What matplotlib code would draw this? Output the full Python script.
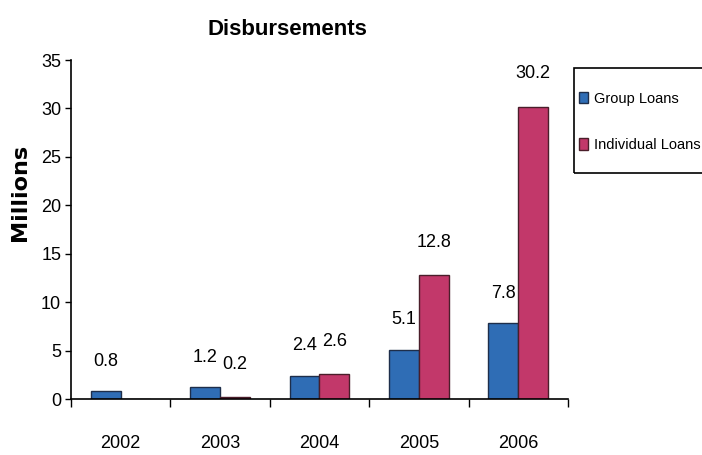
import numpy as np
import matplotlib.pyplot as plt
from matplotlib.ticker import FixedLocator
from matplotlib.patches import Rectangle

years = ['2002', '2003', '2004', '2005', '2006']
group_loans = [0.8, 1.2, 2.4, 5.1, 7.8]
individual_loans = [0, 0.2, 2.6, 12.8, 30.2]
group_labels = ['0.8', '1.2', '2.4', '5.1', '7.8']
indiv_labels = ['', '0.2', '2.6', '12.8', '30.2']

plt.rcParams['font.family'] = ['Liberation Sans', 'DejaVu Sans']

fig = plt.figure(figsize=(7.02, 4.55), dpi=100)
ax = fig.add_axes([0.101, 0.123, 0.708, 0.745])

x = np.arange(len(years))
w = 0.3
b1 = ax.bar(x - w/2, group_loans, w, color='#2f6db5', edgecolor='#1e2e4a', linewidth=1, label='Group Loans')
b2 = ax.bar(x + w/2, individual_loans, w, color='#c2386a', edgecolor='#4a1e2a', linewidth=1, label='Individual Loans')

# value labels above the bars
for rect, lab in zip(b1, group_labels):
    ax.text(rect.get_x() + rect.get_width()/2, rect.get_height() + 2.2, lab,
            ha='center', va='bottom', fontsize=13)
for rect, lab in zip(b2, indiv_labels):
    if lab:
        ax.text(rect.get_x() + rect.get_width()/2, rect.get_height() + 2.5, lab,
                ha='center', va='bottom', fontsize=13)

ax.set_xlim(-0.5, 4.5)
ax.set_ylim(0, 35)
ax.set_yticks(range(0, 36, 5))
ax.set_xticks(x)
ax.set_xticklabels(years, fontsize=13)
ax.xaxis.set_minor_locator(FixedLocator(np.arange(-0.5, 5, 1)))
ax.tick_params(axis='x', which='major', length=0, pad=26)
ax.tick_params(axis='x', which='minor', length=6, width=1, direction='out')
ax.tick_params(axis='y', length=4, width=1, labelsize=13, pad=3)
for s in ['top', 'right']:
    ax.spines[s].set_visible(False)
ax.spines['left'].set_linewidth(1.2)
ax.spines['bottom'].set_linewidth(1.2)

ax.set_ylabel('Millions', fontsize=16, fontweight='bold', family='DejaVu Sans')
ax.yaxis.set_label_coords(-0.083, 0.61)
fig.text(0.41, 0.935, 'Disbursements', ha='center', va='center', fontsize=16, fontweight='bold')

# legend box drawn separately (runs off the right edge like the original)
fig.patches.append(Rectangle((574/702, 1 - 173/455), 0.2, 105/455, transform=fig.transFigure,
                             facecolor='none', edgecolor='black', linewidth=1.2))
leg = ax.legend(loc='center left', bbox_to_anchor=(576/702, 1 - 122/455),
                bbox_transform=fig.transFigure, fontsize=10.5, frameon=False,
                handlelength=0.6, handleheight=0.8, handletextpad=0.4,
                labelspacing=2.2, borderpad=0.2, borderaxespad=0)

fig.savefig('out.png', dpi=100)
